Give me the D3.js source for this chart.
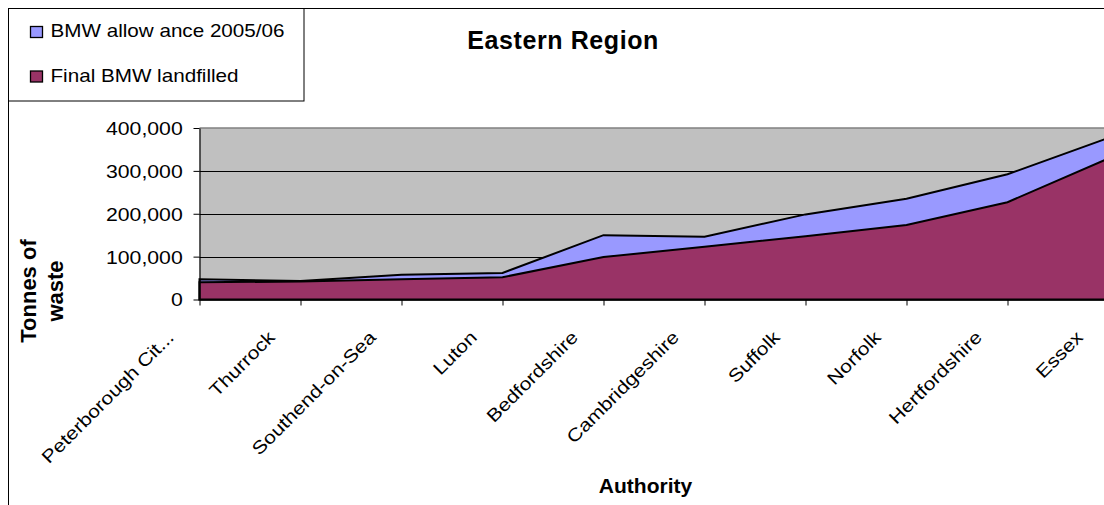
<!DOCTYPE html>
<html>
<head>
<meta charset="utf-8">
<script src="https://cdn.jsdelivr.net/npm/d3@7"></script>
<style>
  html, body { margin: 0; padding: 0; background: #fff; }
  svg { display: block; font-family: "Liberation Sans", Arial, sans-serif; }
</style>
</head>
<body>
<svg id="chart" width="1104" height="505"></svg>
<script>
// Authorities in the Eastern Region, ordered by allowance
const categories = ["Peterborough Cit...", "Thurrock", "Southend-on-Sea", "Luton", "Bedfordshire",
                    "Cambridgeshire", "Suffolk", "Norfolk", "Hertfordshire", "Essex"];
// BMW allowance 2005/06 (tonnes)
const allowance = [47000, 43000, 58000, 62000, 150000, 146500, 198500, 235000, 292000, 377000];
// Final BMW landfilled (tonnes)
const landfilled = [40000, 42000, 47000, 52000, 99000, 123000, 147500, 174000, 227000, 329000];
const yTicks = [0, 100000, 200000, 300000, 400000];
const seriesNames = ["BMW allow ance 2005/06", "Final BMW landfilled"];
const seriesColors = ["#9999FF", "#993366"];

// Regular labels are drawn slightly widened along their baseline
const WIDE = "scale(1.18,1)";

const svg = d3.select("#chart");

// Outer chart frame
svg.append("path")
  .attr("d", "M8.5,505 V8.5 H1104")
  .attr("fill", "none").attr("stroke", "#000").attr("stroke-width", 1);

const x = d3.scalePoint().domain(categories).range([199.5, 1108.5]);
const y = d3.scaleLinear().domain([0, 400000]).range([299.5, 128]);

// Plot area background
svg.append("rect")
  .attr("x", x.range()[0]).attr("y", y(400000))
  .attr("width", x.range()[1] - x.range()[0]).attr("height", y(0) - y(400000))
  .attr("fill", "#C0C0C0");

// Horizontal gridlines
svg.append("g").selectAll("line")
  .data(yTicks.filter(v => v > 0 && v < 400000))
  .join("line")
  .attr("x1", x.range()[0]).attr("x2", x.range()[1])
  .attr("y1", d => Math.round(y(d)) + 0.5).attr("y2", d => Math.round(y(d)) + 0.5)
  .attr("stroke", "#000").attr("stroke-width", 1);

// Plot area top border
svg.append("line")
  .attr("x1", x.range()[0]).attr("x2", x.range()[1])
  .attr("y1", y(400000)).attr("y2", y(400000))
  .attr("stroke", "#808080").attr("stroke-width", 1.5);

// Overlapping areas: allowance behind, landfilled in front
const area = d3.area()
  .x((d, i) => x(categories[i]))
  .y0(y(0))
  .y1(d => y(d));

[allowance, landfilled].forEach((series, k) => {
  svg.append("path")
    .datum(series)
    .attr("d", area)
    .attr("fill", seriesColors[k])
    .attr("stroke", "#000")
    .attr("stroke-width", 2)
    .attr("stroke-linejoin", "miter");
});

// Y axis
const yAxis = svg.append("g")
  .attr("transform", `translate(${x.range()[0]},0)`)
  .call(d3.axisLeft(y).tickValues(yTicks).tickSize(6).tickSizeOuter(0).tickFormat(d3.format(",")));
yAxis.select(".domain").attr("stroke", "#000").attr("stroke-width", 1.2);
yAxis.selectAll(".tick line").attr("stroke", "#000");
yAxis.selectAll(".tick text")
  .attr("x", 0).attr("dy", "0.36em")
  .attr("transform", `translate(-16.8,0) ${WIDE}`)
  .attr("fill", "#000")
  .style("font-size", "18px")
  .style("font-family", "Liberation Sans, Arial, sans-serif");

// X axis
const xAxis = svg.append("g")
  .attr("transform", `translate(0,${y(0)})`)
  .call(d3.axisBottom(x).tickSize(6).tickSizeOuter(0));
xAxis.select(".domain").attr("stroke", "#000").attr("stroke-width", 1.2);
xAxis.selectAll(".tick line").attr("stroke", "#000");
xAxis.selectAll(".tick text")
  .attr("x", 0).attr("y", 0).attr("dy", 0)
  .attr("transform", `translate(-25,39) rotate(-45) ${WIDE}`)
  .attr("fill", "#000")
  .style("text-anchor", "end")
  .style("font-size", "18px")
  .style("font-family", "Liberation Sans, Arial, sans-serif");

// Title
svg.append("text")
  .attr("x", 562.8).attr("y", 49.3)
  .attr("text-anchor", "middle")
  .style("font-size", "25px").style("font-weight", "bold")
  .attr("textLength", 191).attr("lengthAdjust", "spacing")
  .text("Eastern Region");

// Axis titles
svg.append("text")
  .attr("x", 645.5).attr("y", 493.3)
  .attr("text-anchor", "middle")
  .style("font-size", "21px").style("font-weight", "bold")
  .text("Authority");

const yTitle = svg.append("text")
  .attr("transform", "translate(36,291) rotate(-90)")
  .attr("text-anchor", "middle")
  .style("font-size", "22px").style("font-weight", "bold");
yTitle.append("tspan").attr("x", 0).attr("y", 0).text("Tonnes of");
yTitle.append("tspan").attr("x", 0).attr("y", 27).text("waste");

// Legend
const legend = svg.append("g");
legend.append("rect")
  .attr("x", 8.5).attr("y", 8.5).attr("width", 295.5).attr("height", 92.5)
  .attr("fill", "#fff").attr("stroke", "#000").attr("stroke-width", 1);
const items = legend.selectAll("g.item")
  .data(seriesNames)
  .join("g")
  .attr("class", "item")
  .attr("transform", (d, i) => `translate(0,${i * 44.5})`);
items.append("rect")
  .attr("x", 30.5).attr("y", 26.5).attr("width", 12).attr("height", 11)
  .attr("fill", (d, i) => seriesColors[i])
  .attr("stroke", "#000").attr("stroke-width", 1.3);
items.append("text")
  .attr("transform", `translate(50.5,37) ${WIDE}`)
  .style("font-size", "17.5px")
  .text(d => d);
</script>
</body>
</html>
